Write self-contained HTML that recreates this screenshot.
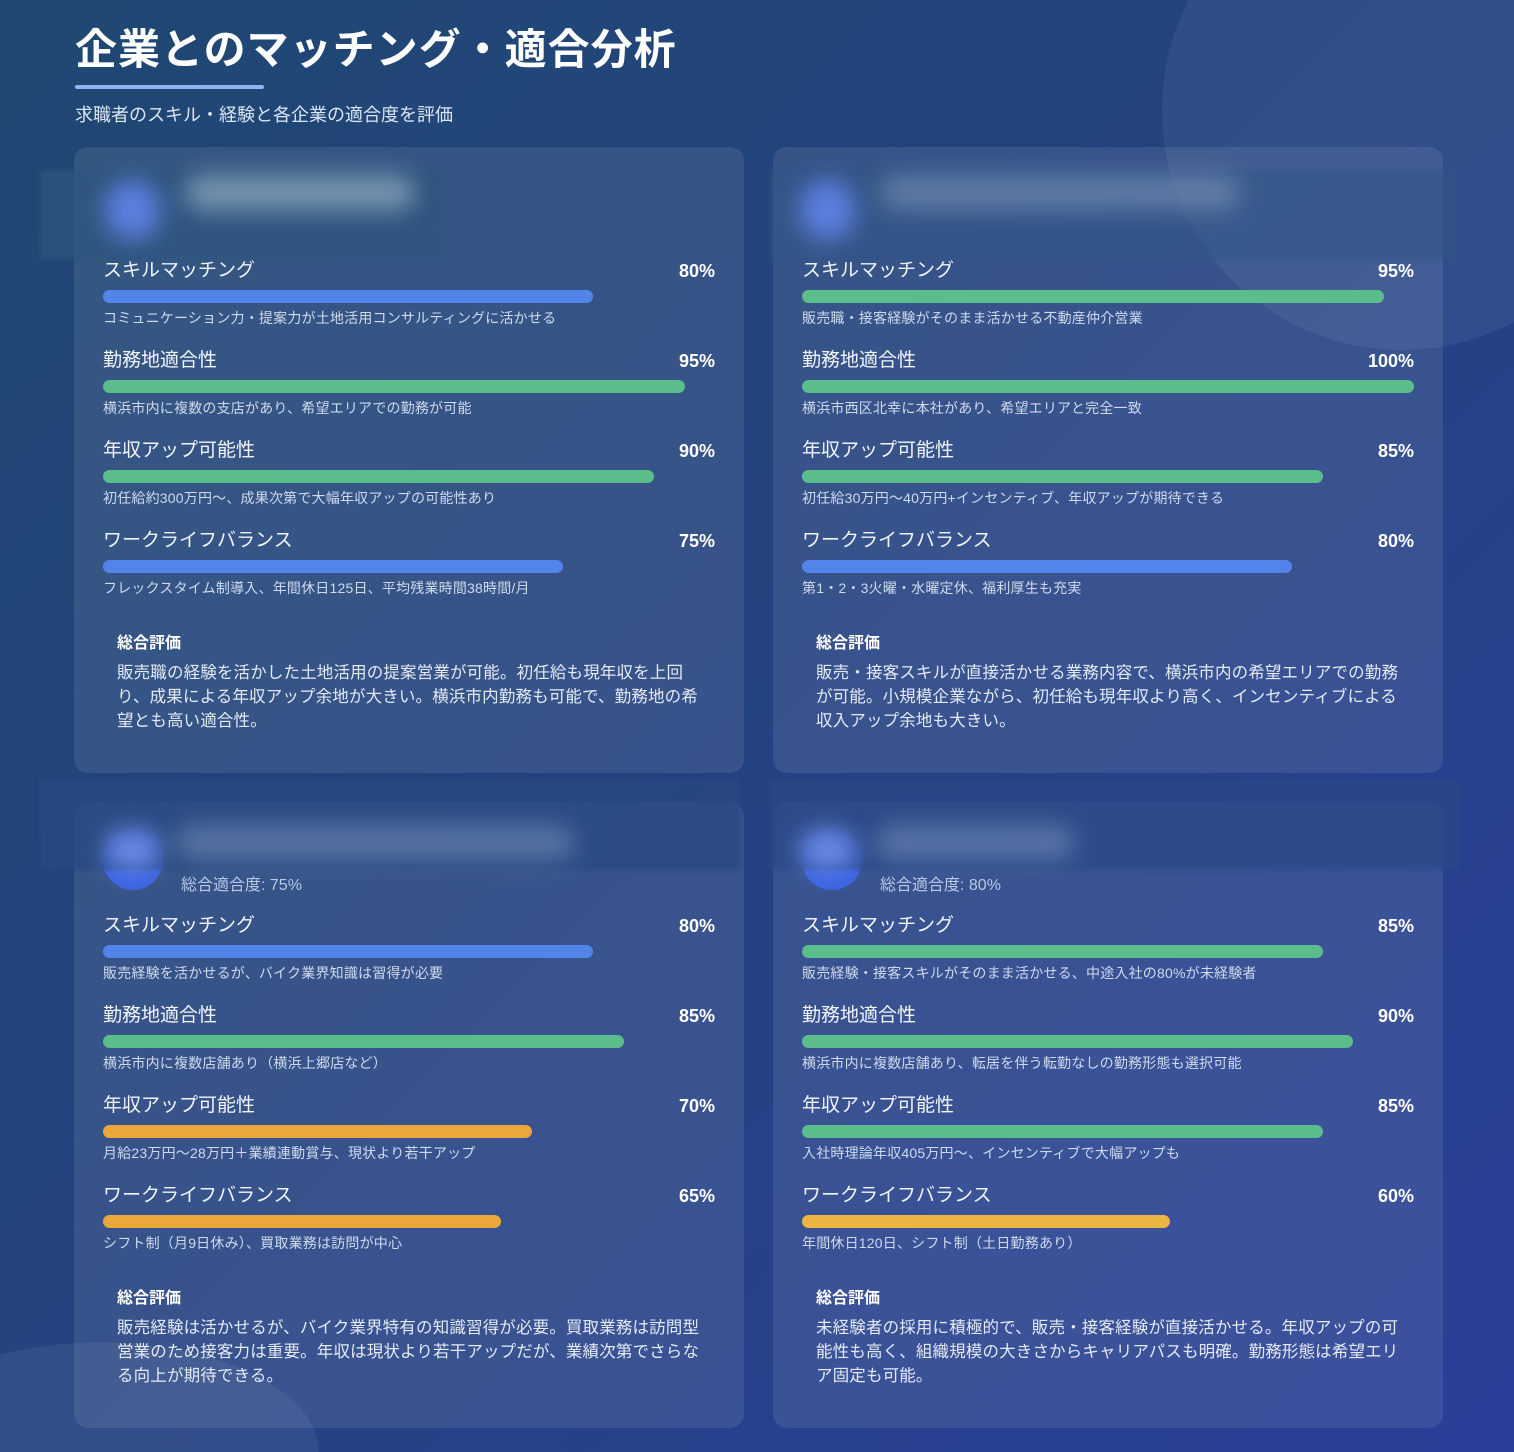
<!DOCTYPE html>
<html><head><meta charset="utf-8"><style>
*{margin:0;padding:0;box-sizing:border-box}
html,body{width:1514px;height:1452px;overflow:hidden}
body{font-family:"Liberation Sans","Noto Sans CJK JP",sans-serif;color:#fff}
#w{position:relative;width:1514px;height:1452px;overflow:hidden;background:radial-gradient(ellipse 220px 110px at 100px 1452px,rgba(255,255,255,0.06) 99%,transparent 100%),linear-gradient(135deg,#1f4872 0%,#24437f 45%,#2a3f98 100%)}
.circ{position:absolute;border-radius:50%;background:rgba(255,255,255,0.06)}
h1{position:absolute;left:75px;top:24px;font-size:42px;font-weight:bold;letter-spacing:1px;line-height:52px}
.ul{position:absolute;left:75px;top:85px;width:189px;height:4px;background:#8fb4f3;border-radius:2px}
.sub{position:absolute;left:75px;top:101px;font-size:18px;color:#dce6f5}
.card{position:absolute;width:670px;height:626px;border-radius:14px;background:rgba(255,255,255,0.09)}
.lab{position:absolute;left:29px;font-size:19px;line-height:24px;color:#f2f5fb}
.pct{position:absolute;right:29px;font-size:18px;font-weight:bold;line-height:24px}
.bar{position:absolute;left:29px;height:13px;border-radius:7px}
.b{background:#5284ea}.g{background:#5cbd8c}.o{background:#eaa83c}.y{background:#ecb443}
.desc{position:absolute;left:29px;font-size:14px;letter-spacing:0.2px;line-height:18px;color:#cfdaee;white-space:nowrap}
.st{position:absolute;left:43px;top:486px;font-size:16px;font-weight:bold;line-height:22px}
.sx{position:absolute;left:43px;top:514px;font-size:16.5px;letter-spacing:0.15px;line-height:24px;color:#e4eaf5;white-space:nowrap}
.blur{position:absolute;height:90px;background:rgba(40,75,125,0.6);filter:blur(2px)}
.blob{position:absolute;border-radius:40px;filter:blur(12px)}
.sc{position:absolute;font-size:16px;color:#b9c9e6}
</style></head><body><div id="w">
<div class="circ" style="left:1162px;top:-130px;width:480px;height:480px"></div>
<h1>企業とのマッチング・適合分析</h1>
<div class="ul"></div>
<div class="sub">求職者のスキル・経験と各企業の適合度を評価</div>

<div class="card" style="left:74px;top:147px">
<div class="lab" style="top:112px">スキルマッチング</div><div class="pct" style="top:112px">80%</div>
<div class="bar b" style="top:143px;width:490px"></div>
<div class="desc" style="top:162px">コミュニケーション力・提案力が土地活用コンサルティングに活かせる</div>
<div class="lab" style="top:202px">勤務地適合性</div><div class="pct" style="top:202px">95%</div>
<div class="bar g" style="top:233px;width:582px"></div>
<div class="desc" style="top:252px">横浜市内に複数の支店があり、希望エリアでの勤務が可能</div>
<div class="lab" style="top:292px">年収アップ可能性</div><div class="pct" style="top:292px">90%</div>
<div class="bar g" style="top:323px;width:551px"></div>
<div class="desc" style="top:342px">初任給約300万円〜、成果次第で大幅年収アップの可能性あり</div>
<div class="lab" style="top:382px">ワークライフバランス</div><div class="pct" style="top:382px">75%</div>
<div class="bar b" style="top:413px;width:460px"></div>
<div class="desc" style="top:432px">フレックスタイム制導入、年間休日125日、平均残業時間38時間/月</div>
<div class="st">総合評価</div>
<div class="sx">販売職の経験を活かした土地活用の提案営業が可能。初任給も現年収を上回<br>り、成果による年収アップ余地が大きい。横浜市内勤務も可能で、勤務地の希<br>望とも高い適合性。</div>
</div>

<div class="card" style="left:773px;top:147px">
<div class="lab" style="top:112px">スキルマッチング</div><div class="pct" style="top:112px">95%</div>
<div class="bar g" style="top:143px;width:582px"></div>
<div class="desc" style="top:162px">販売職・接客経験がそのまま活かせる不動産仲介営業</div>
<div class="lab" style="top:202px">勤務地適合性</div><div class="pct" style="top:202px">100%</div>
<div class="bar g" style="top:233px;width:612px"></div>
<div class="desc" style="top:252px">横浜市西区北幸に本社があり、希望エリアと完全一致</div>
<div class="lab" style="top:292px">年収アップ可能性</div><div class="pct" style="top:292px">85%</div>
<div class="bar g" style="top:323px;width:521px"></div>
<div class="desc" style="top:342px">初任給30万円〜40万円+インセンティブ、年収アップが期待できる</div>
<div class="lab" style="top:382px">ワークライフバランス</div><div class="pct" style="top:382px">80%</div>
<div class="bar b" style="top:413px;width:490px"></div>
<div class="desc" style="top:432px">第1・2・3火曜・水曜定休、福利厚生も充実</div>
<div class="st">総合評価</div>
<div class="sx">販売・接客スキルが直接活かせる業務内容で、横浜市内の希望エリアでの勤務<br>が可能。小規模企業ながら、初任給も現年収より高く、インセンティブによる<br>収入アップ余地も大きい。</div>
</div>

<div class="card" style="left:74px;top:802px">
<div style="position:absolute;left:29px;top:28px;width:60px;height:60px;border-radius:50%;background:#3b64e0"></div>
<div class="sc" style="left:107px;top:69px">総合適合度: 75%</div>
<div class="lab" style="top:112px">スキルマッチング</div><div class="pct" style="top:112px">80%</div>
<div class="bar b" style="top:143px;width:490px"></div>
<div class="desc" style="top:162px">販売経験を活かせるが、バイク業界知識は習得が必要</div>
<div class="lab" style="top:202px">勤務地適合性</div><div class="pct" style="top:202px">85%</div>
<div class="bar g" style="top:233px;width:521px"></div>
<div class="desc" style="top:252px">横浜市内に複数店舗あり（横浜上郷店など）</div>
<div class="lab" style="top:292px">年収アップ可能性</div><div class="pct" style="top:292px">70%</div>
<div class="bar o" style="top:323px;width:429px"></div>
<div class="desc" style="top:342px">月給23万円〜28万円＋業績連動賞与、現状より若干アップ</div>
<div class="lab" style="top:382px">ワークライフバランス</div><div class="pct" style="top:382px">65%</div>
<div class="bar o" style="top:413px;width:398px"></div>
<div class="desc" style="top:432px">シフト制（月9日休み）、買取業務は訪問が中心</div>
<div class="st">総合評価</div>
<div class="sx">販売経験は活かせるが、バイク業界特有の知識習得が必要。買取業務は訪問型<br>営業のため接客力は重要。年収は現状より若干アップだが、業績次第でさらな<br>る向上が期待できる。</div>
</div>

<div class="card" style="left:773px;top:802px">
<div style="position:absolute;left:29px;top:28px;width:60px;height:60px;border-radius:50%;background:#3b64e0"></div>
<div class="sc" style="left:107px;top:69px">総合適合度: 80%</div>
<div class="lab" style="top:112px">スキルマッチング</div><div class="pct" style="top:112px">85%</div>
<div class="bar g" style="top:143px;width:521px"></div>
<div class="desc" style="top:162px">販売経験・接客スキルがそのまま活かせる、中途入社の80%が未経験者</div>
<div class="lab" style="top:202px">勤務地適合性</div><div class="pct" style="top:202px">90%</div>
<div class="bar g" style="top:233px;width:551px"></div>
<div class="desc" style="top:252px">横浜市内に複数店舗あり、転居を伴う転勤なしの勤務形態も選択可能</div>
<div class="lab" style="top:292px">年収アップ可能性</div><div class="pct" style="top:292px">85%</div>
<div class="bar g" style="top:323px;width:521px"></div>
<div class="desc" style="top:342px">入社時理論年収405万円〜、インセンティブで大幅アップも</div>
<div class="lab" style="top:382px">ワークライフバランス</div><div class="pct" style="top:382px">60%</div>
<div class="bar y" style="top:413px;width:368px"></div>
<div class="desc" style="top:432px">年間休日120日、シフト制（土日勤務あり）</div>
<div class="st">総合評価</div>
<div class="sx">未経験者の採用に積極的で、販売・接客経験が直接活かせる。年収アップの可<br>能性も高く、組織規模の大きさからキャリアパスも明確。勤務形態は希望エリ<br>ア固定も可能。</div>
</div>

<div class="blur" style="left:40px;top:170px;width:400px;background:rgba(45,85,125,0.7)"></div>
<div class="blob" style="left:105px;top:180px;width:55px;height:60px;background:#5c7fe0"></div>
<div class="blob" style="left:185px;top:175px;width:230px;height:35px;background:rgba(170,190,210,0.6)"></div>
<div class="blur" style="left:770px;top:170px;width:690px;background:rgba(50,85,135,0.55)"></div>
<div class="blob" style="left:800px;top:180px;width:55px;height:60px;background:#5c7fe0"></div>
<div class="blob" style="left:880px;top:175px;width:360px;height:35px;background:rgba(150,170,200,0.45)"></div>
<div class="blur" style="left:40px;top:780px;width:700px;background:rgba(40,72,130,0.75)"></div>
<div class="blob" style="left:105px;top:830px;width:55px;height:40px;background:#6a8ae8"></div>
<div class="blob" style="left:175px;top:825px;width:400px;height:35px;background:rgba(140,165,200,0.45)"></div>
<div class="blur" style="left:770px;top:780px;width:690px;background:rgba(42,72,135,0.75)"></div>
<div class="blob" style="left:800px;top:830px;width:55px;height:40px;background:#6a8ae8"></div>
<div class="blob" style="left:875px;top:825px;width:200px;height:35px;background:rgba(140,165,200,0.45)"></div>
</div></body></html>
